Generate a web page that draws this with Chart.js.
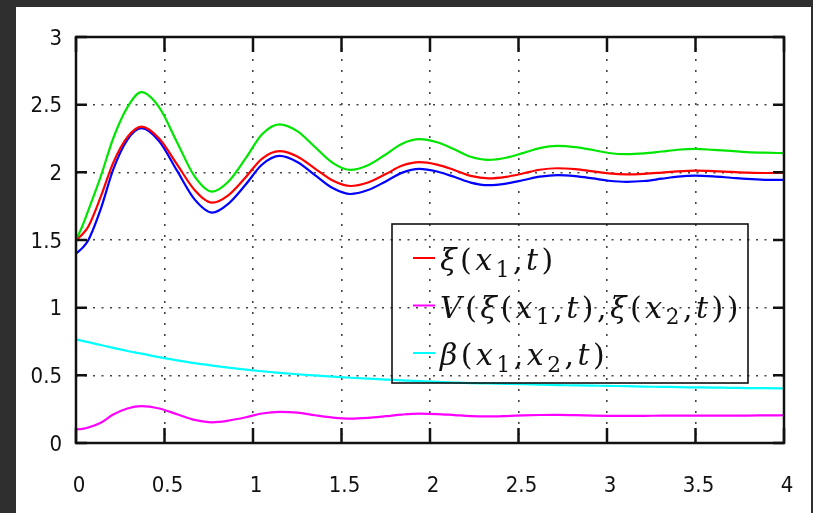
<!DOCTYPE html>
<html>
<head>
<meta charset="utf-8">
<script src="https://cdn.jsdelivr.net/npm/chart.js@4/dist/chart.umd.min.js"></script>
<style>
  html, body { margin:0; padding:0; background:#2f2f2f; width:813px; height:513px; overflow:hidden; }
  .panel { position:absolute; left:16px; top:7px; width:795px; height:506px; background:#fff; }
  #chart { position:absolute; left:0; top:0; }
</style>
</head>
<body>
<div class="panel"></div>
<canvas id="chart" width="813" height="513"></canvas>
<script>
/* damped response curves - Chart.js line chart */

// time samples (extremes of the oscillation are sampled directly)
const tVals = [0, 0.035, 0.07, 0.14, 0.21, 0.29, 0.37, 0.47, 0.57, 0.67, 0.77, 0.86, 0.96, 1.05, 1.15,
  1.25, 1.35, 1.45, 1.55, 1.65, 1.75, 1.84, 1.94, 2.04, 2.14, 2.23, 2.33, 2.43, 2.53, 2.62, 2.72,
  2.82, 2.92, 3.01, 3.11, 3.21, 3.31, 3.40, 3.50, 3.60, 3.70, 3.79, 3.89, 4.0];

const greenVals = [1.50, 1.60, 1.72, 1.97, 2.25, 2.48, 2.592, 2.48, 2.225, 1.97, 1.857, 1.93, 2.106, 2.28, 2.355,
  2.305, 2.187, 2.07, 2.018, 2.052, 2.132, 2.21, 2.245, 2.222, 2.169, 2.115, 2.092, 2.108, 2.144, 2.179, 2.195,
  2.186, 2.165, 2.143, 2.134, 2.140, 2.154, 2.167, 2.173, 2.166, 2.158, 2.150, 2.145, 2.142];

const redVals = [1.50, 1.54, 1.60, 1.82, 2.07, 2.26, 2.338, 2.25, 2.06, 1.87, 1.776, 1.83, 1.966, 2.10, 2.156,
  2.117, 2.028, 1.94, 1.899, 1.925, 1.987, 2.048, 2.075, 2.057, 2.016, 1.974, 1.956, 1.967, 1.993, 2.019, 2.03,
  2.023, 2.007, 1.992, 1.985, 1.989, 1.998, 2.007, 2.012, 2.009, 2.003, 1.998, 1.995, 1.997];

const blueVals = [1.40, 1.44, 1.50, 1.73, 2.02, 2.24, 2.326, 2.23, 2.014, 1.80, 1.702, 1.767, 1.912, 2.056, 2.121,
  2.077, 1.98, 1.884, 1.840, 1.869, 1.933, 1.996, 2.025, 2.006, 1.965, 1.924, 1.905, 1.917, 1.943, 1.968, 1.98,
  1.972, 1.955, 1.938, 1.93, 1.936, 1.953, 1.968, 1.975, 1.970, 1.960, 1.951, 1.945, 1.944];

const magentaVals = [0.10, 0.105, 0.115, 0.15, 0.21, 0.255, 0.273, 0.255, 0.213, 0.171, 0.153, 0.165, 0.19, 0.218, 0.23,
  0.225, 0.205, 0.188, 0.18, 0.186, 0.198, 0.21, 0.217, 0.214, 0.206, 0.199, 0.196, 0.199, 0.204, 0.207, 0.208,
  0.206, 0.203, 0.201, 0.20, 0.201, 0.202, 0.203, 0.203, 0.203, 0.203, 0.203, 0.204, 0.205];

const cyanVals = [0.766, 0.755, 0.745, 0.724, 0.703, 0.68, 0.66, 0.634, 0.611, 0.59, 0.572, 0.557, 0.542, 0.53, 0.518,
  0.508, 0.499, 0.49, 0.482, 0.475, 0.469, 0.463, 0.457, 0.452, 0.447, 0.443, 0.44, 0.437, 0.434, 0.431, 0.428,
  0.426, 0.424, 0.422, 0.42, 0.417, 0.415, 0.413, 0.411, 0.409, 0.408, 0.406, 0.405, 0.404];

const xTicks = [0, 0.5, 1, 1.5, 2, 2.5, 3, 3.5, 4];
const yTicks = [0, 0.5, 1, 1.5, 2, 2.5, 3];

// legend labels: '_' marks a subscript digit
const lblXi = 'ξ(x_1,t)';
const lblV = 'V(ξ(x_1,t),ξ(x_2,t))';
const lblBeta = 'β(x_1,x_2,t)';

const pts = (vals) => vals.map((y, i) => ({ x: tVals[i], y }));
const line = (label, vals, color) => ({
  label, data: pts(vals), borderColor: color, borderWidth: 2.2,
  pointRadius: 0, cubicInterpolationMode: 'monotone', fill: false
});

const tickFont = { family: "'Liberation Sans Narrow', 'DejaVu Sans Condensed', 'Liberation Sans', sans-serif", size: 22 };

// draw a small math string: italic letters, upright digits/punctuation, _d subscripts
function drawMath(ctx, s, x, y, size, gap){
  let cx = x;
  ctx.fillStyle = '#111';
  ctx.textBaseline = 'alphabetic';
  ctx.textAlign = 'left';
  for (let i = 0; i < s.length; i++){
    let ch = s[i], sub = false;
    if (ch === '_'){ ch = s[++i]; sub = true; }
    const it = /[A-Za-zα-ω]/.test(ch);
    const sz = sub ? size*0.72 : size;
    ctx.font = `${it ? 'italic ' : ''}${sz}px 'DejaVu Serif', 'Liberation Serif', serif`;
    ctx.fillText(ch, cx, sub ? y + size*0.22 : y);
    cx += ctx.measureText(ch).width + gap;
  }
}

const mathLegend = {
  id: 'mathLegend',
  afterDatasetsDraw(chart){
    const ctx = chart.ctx;
    const items = chart.data.datasets.filter(d => d.label);
    ctx.save();
    ctx.strokeStyle = '#111'; ctx.lineWidth = 1.6;
    ctx.strokeRect(392, 224, 356, 159);
    items.forEach((d, i) => {
      const y = 258 + i*47.5;
      ctx.strokeStyle = d.borderColor; ctx.lineWidth = 2;
      ctx.beginPath(); ctx.moveTo(413, y); ctx.lineTo(435, y); ctx.stroke();
      drawMath(ctx, d.label, 440, y + 12, 30, 3.5);
    });
    ctx.restore();
  }
};

// black frame with inward tick marks on all four sides
const frame = {
  id: 'frame',
  afterDraw(chart){
    const { ctx, chartArea: a, scales: { x, y } } = chart;
    ctx.save();
    ctx.strokeStyle = '#111'; ctx.lineWidth = 2.5;
    ctx.beginPath();
    xTicks.forEach(v => {
      const px = x.getPixelForValue(v);
      ctx.moveTo(px, a.bottom); ctx.lineTo(px, a.bottom - 15);
      ctx.moveTo(px, a.top); ctx.lineTo(px, a.top + 15);
    });
    yTicks.forEach(v => {
      const py = y.getPixelForValue(v);
      ctx.moveTo(a.left, py); ctx.lineTo(a.left + 11, py);
      ctx.moveTo(a.right, py); ctx.lineTo(a.right - 11, py);
    });
    ctx.stroke();
    ctx.lineWidth = 2.5;
    ctx.strokeRect(a.left, a.top, a.right - a.left, a.bottom - a.top);
    ctx.restore();
  }
};

new Chart(document.getElementById('chart'), {
  type: 'line',
  data: {
    datasets: [
      line('', greenVals, '#00e600'),
      line(lblXi, redVals, '#ff0000'),
      line('', blueVals, '#0000ff'),
      line(lblV, magentaVals, '#ff00ff'),
      line(lblBeta, cyanVals, '#00ffff'),
    ]
  },
  options: {
    responsive: false,
    animation: false,
    layout: { padding: { top: 37, right: 29, left: 0, bottom: 0 } },
    plugins: { legend: { display: false }, tooltip: { enabled: false } },
    scales: {
      x: {
        type: 'linear', min: 0, max: 4,
        afterBuildTicks: (s) => { s.ticks = xTicks.map(v => ({ value: v })); },
        afterFit: (s) => { s.height = 70; s.paddingLeft = 0; s.paddingRight = 0; },
        grid: { color: '#444', lineWidth: 1.6, drawTicks: false },
        border: { display: false, dash: [2, 9] },
        ticks: { font: tickFont, color: '#111', padding: 30, labelOffset: 3, maxRotation: 0, callback: (v) => `${v}` }
      },
      y: {
        type: 'linear', min: 0, max: 3,
        afterBuildTicks: (s) => { s.ticks = yTicks.map(v => ({ value: v })); },
        afterFit: (s) => { s.width = 76; s.paddingTop = 0; s.paddingBottom = 0; },
        grid: { color: '#444', lineWidth: 1.6, drawTicks: false },
        border: { display: false, dash: [2, 6.5] },
        ticks: { font: tickFont, color: '#111', padding: 14, labelOffset: 2, callback: (v) => `${v}` }
      }
    }
  },
  plugins: [mathLegend, frame]
});
</script>
</body>
</html>
